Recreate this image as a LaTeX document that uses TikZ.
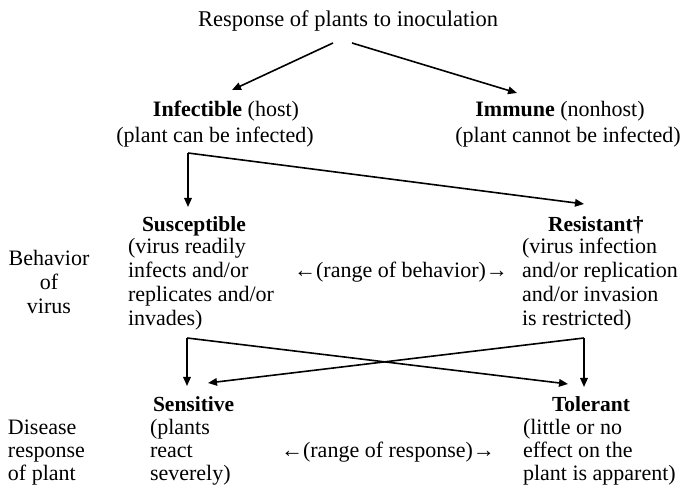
\documentclass[tikz,border=0pt]{standalone}
\usepackage{fontspec}
\setmainfont{Liberation Serif}
\usetikzlibrary{arrows.meta}
\newcommand\lft[1]{\begin{tabular}[t]{@{}l@{}}#1\end{tabular}}
\newcommand\ctr[1]{\begin{tabular}[t]{@{}c@{}}#1\end{tabular}}
\begin{document}
\begin{tikzpicture}[x=1pt,y=-1pt,
  every node/.style={inner sep=0pt,outer sep=0pt,font=\fontsize{22}{24}\selectfont},
  lower/.style={font=\fontsize{22}{23}\selectfont},
  head/.style={font=\fontsize{21.5}{22}\selectfont\bfseries},
  conn/.style={line width=1.6pt,line join=miter,-{Triangle[length=9pt,width=7.5pt]}},
  txt/.style={anchor=base},
  txtl/.style={anchor=base west}]
\useasboundingbox (0,0) rectangle (683,486);
% texts
\node[txt,font=\fontsize{22.5}{23}\selectfont] (title) at (348,27) {Response of plants to inoculation};
\node[txt] (inf1) at (226,117) {\textbf{Infectible} (host)};
\node[txt] (inf2) at (215,143) {(plant can be infected)};
\node[txt] (imm1) at (560,117) {\textbf{Immune} (nonhost)};
\node[txt] (imm2) at (568,143) {(plant cannot be infected)};
\node[txtl,head] (sus) at (142,232) {Susceptible};
\node[txtl] (susb) at (128,254) {\lft{(virus readily\\infects and/or\\replicates and/or\\invades)}};
\node[txtl,head] (res) at (548,232) {Resistant†};
\node[txtl] (resb) at (522,254) {\lft{(virus infection\\and/or replication\\and/or invasion\\is restricted)}};
\node[txt] (beh) at (49,266) {\ctr{Behavior\\of\\virus}};
\node[txt] (rb) at (401,278) {←(range of behavior)→};
\node[txtl,head] (sen) at (153,411) {Sensitive};
\node[txtl,lower] (senb) at (150,434) {\lft{(plants\\react\\severely)}};
\node[txtl,head] (tol) at (552,411) {Tolerant};
\node[txtl,lower] (tolb) at (523,434) {\lft{(little or no\\effect on the\\plant is apparent)}};
\node[txtl,lower] (dis) at (8,434) {\lft{Disease\\response\\of plant}};
\node[txt] (rr) at (388,457) {←(range of response)→};
% connector points
\coordinate (t1) at (333,43);
\coordinate (t1e) at (232,90);
\coordinate (t2) at (352,43);
\coordinate (t2e) at (517,93);
\coordinate (c1) at (188,153);
\coordinate (c1d) at (188,207);
\coordinate (c1r) at (584,204);
\coordinate (c2) at (187,338);
\coordinate (c2d) at (187,386);
\coordinate (c2r) at (568,384);
\coordinate (c3) at (584,338);
\coordinate (c3d) at (584,387);
\coordinate (c3l) at (208,383);
\draw[conn] (t1) -- (t1e);
\draw[conn] (t2) -- (t2e);
\draw[conn] (c1) -- (c1d);
\draw[conn] (c1) -- (c1r);
\draw[conn] (c2) -- (c2d);
\draw[conn] (c2) -- (c2r);
\draw[conn] (c3) -- (c3d);
\draw[conn] (c3) -- (c3l);
\end{tikzpicture}
\end{document}
